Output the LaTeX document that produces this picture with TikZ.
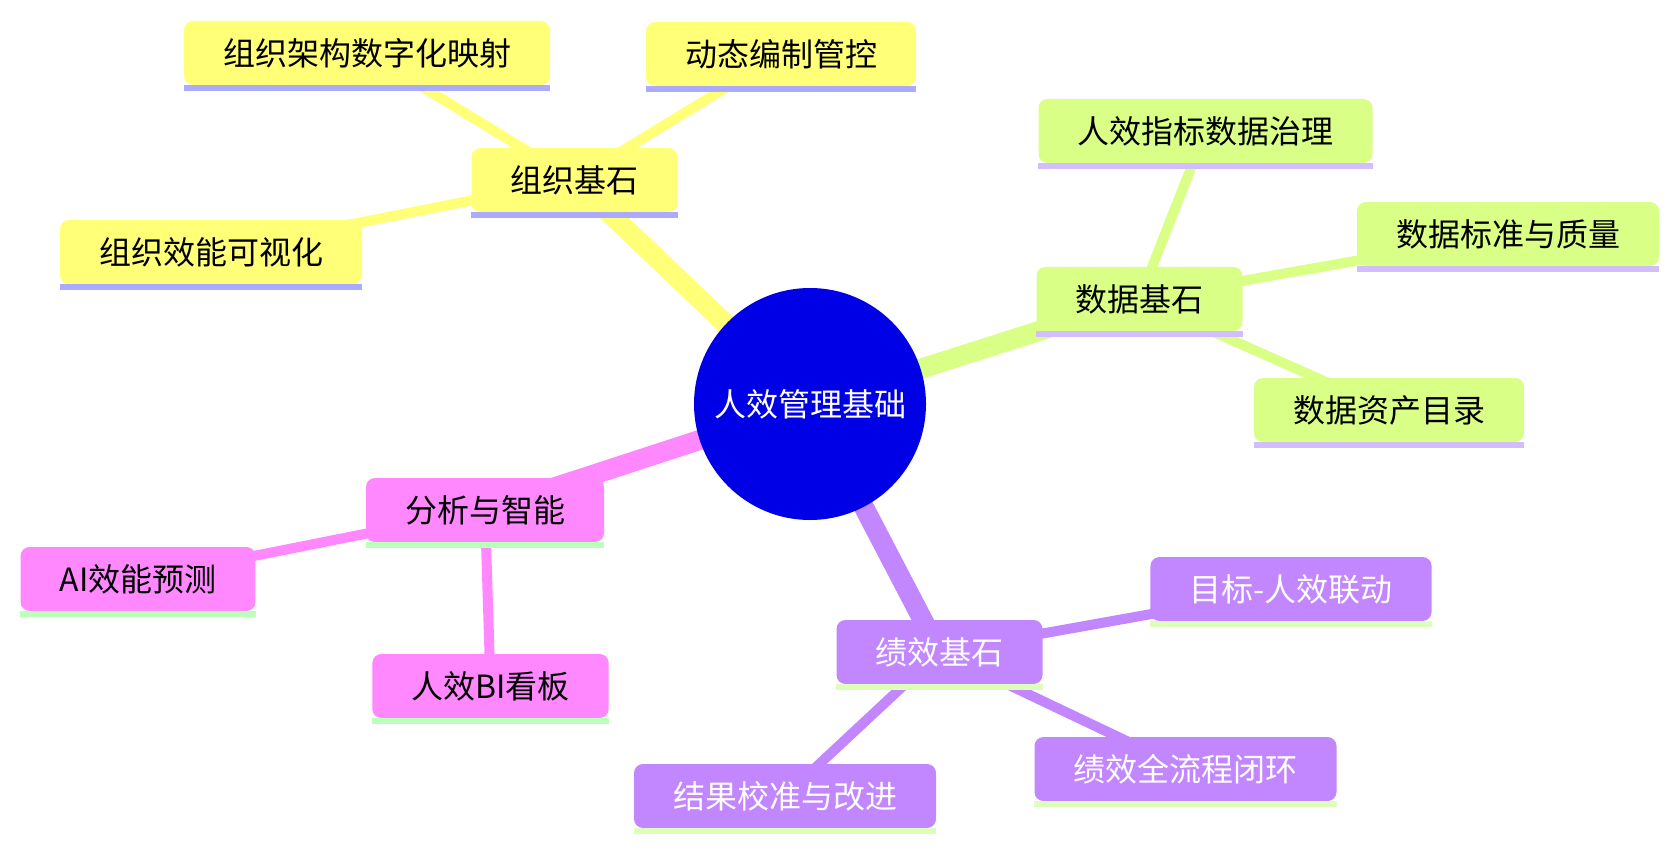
\documentclass[tikz,border=0pt]{standalone}
\usepackage{fontspec}
\setmainfont{Noto Sans CJK SC}
\usetikzlibrary{backgrounds}
\definecolor{rootblue}{RGB}{0,0,230}
\definecolor{orgyellow}{RGB}{255,255,120}
\definecolor{orgline}{RGB}{170,170,255}
\definecolor{datagreen}{RGB}{217,255,134}
\definecolor{dataline}{RGB}{210,190,255}
\definecolor{anapink}{RGB}{255,136,255}
\definecolor{analine}{RGB}{187,255,187}
\definecolor{perfviolet}{RGB}{194,134,255}
\definecolor{perfline}{RGB}{221,255,187}
\tikzset{
  topic/.style={rounded corners=9pt,inner xsep=39pt,inner ysep=0pt,minimum height=64pt,
    font=\fontsize{32}{38}\selectfont,text=black},
  mainedge/.style={line width=20pt},
  subedge/.style={line width=10pt},
}

\begin{document}
\begin{tikzpicture}[x=1pt,y=-1pt]
\useasboundingbox (0,0) rectangle (1680,850);
% root
\node[circle,fill=rootblue,minimum size=232pt,inner sep=0pt,text=white,
  font=\fontsize{32}{38}\selectfont] (root) at (810,404) {人效管理基础};

% org branch (yellow)
\node[topic,fill=orgyellow] (org) at (574.5,180) {组织基石};
\node[topic,fill=orgyellow] (org1) at (367,53) {组织架构数字化映射};
\node[topic,fill=orgyellow] (org2) at (781,54) {动态编制管控};
\node[topic,fill=orgyellow] (org3) at (211,252) {组织效能可视化};

% data branch (green)
\node[topic,fill=datagreen] (data) at (1139.5,299) {数据基石};
\node[topic,fill=datagreen] (data1) at (1205.5,131) {人效指标数据治理};
\node[topic,fill=datagreen] (data2) at (1508,234) {数据标准与质量};
\node[topic,fill=datagreen] (data3) at (1389,410) {数据资产目录};

% analysis branch (pink)
\node[topic,fill=anapink] (ana) at (485,510) {分析与智能};
\node[topic,fill=anapink] (ana1) at (138,579) {AI效能预测};
\node[topic,fill=anapink] (ana2) at (490.5,686) {人效BI看板};

% performance branch (violet)
\node[topic,fill=perfviolet,text=white] (perf) at (939.5,652) {绩效基石};
\node[topic,fill=perfviolet,text=white] (perf1) at (1291,589) {目标-人效联动};
\node[topic,fill=perfviolet,text=white] (perf2) at (1185.5,769) {绩效全流程闭环};
\node[topic,fill=perfviolet,text=white] (perf3) at (785,796) {结果校准与改进};

% underlines
\foreach \n/\c in {org/orgline,org1/orgline,org2/orgline,org3/orgline,
  data/dataline,data1/dataline,data2/dataline,data3/dataline,
  ana/analine,ana1/analine,ana2/analine,
  perf/perfline,perf1/perfline,perf2/perfline,perf3/perfline} {
  \fill[\c] (\n.south west) rectangle ([yshift=-6pt]\n.south east);
}

% edges behind the nodes
\begin{scope}[on background layer]
\draw[mainedge,orgyellow] (root.center) -- (org.center);
\draw[mainedge,datagreen] (root.center) -- (data.center);
\draw[mainedge,anapink] (root.center) -- (ana.center);
\draw[mainedge,perfviolet] (root.center) -- (perf.center);
\foreach \i in {1,2,3} {
  \draw[subedge,orgyellow] (org.center) -- (org\i.center);
  \draw[subedge,datagreen] (data.center) -- (data\i.center);
  \draw[subedge,perfviolet] (perf.center) -- (perf\i.center);
}
\foreach \i in {1,2} {
  \draw[subedge,anapink] (ana.center) -- (ana\i.center);
}
\end{scope}
\end{tikzpicture}
\end{document}
